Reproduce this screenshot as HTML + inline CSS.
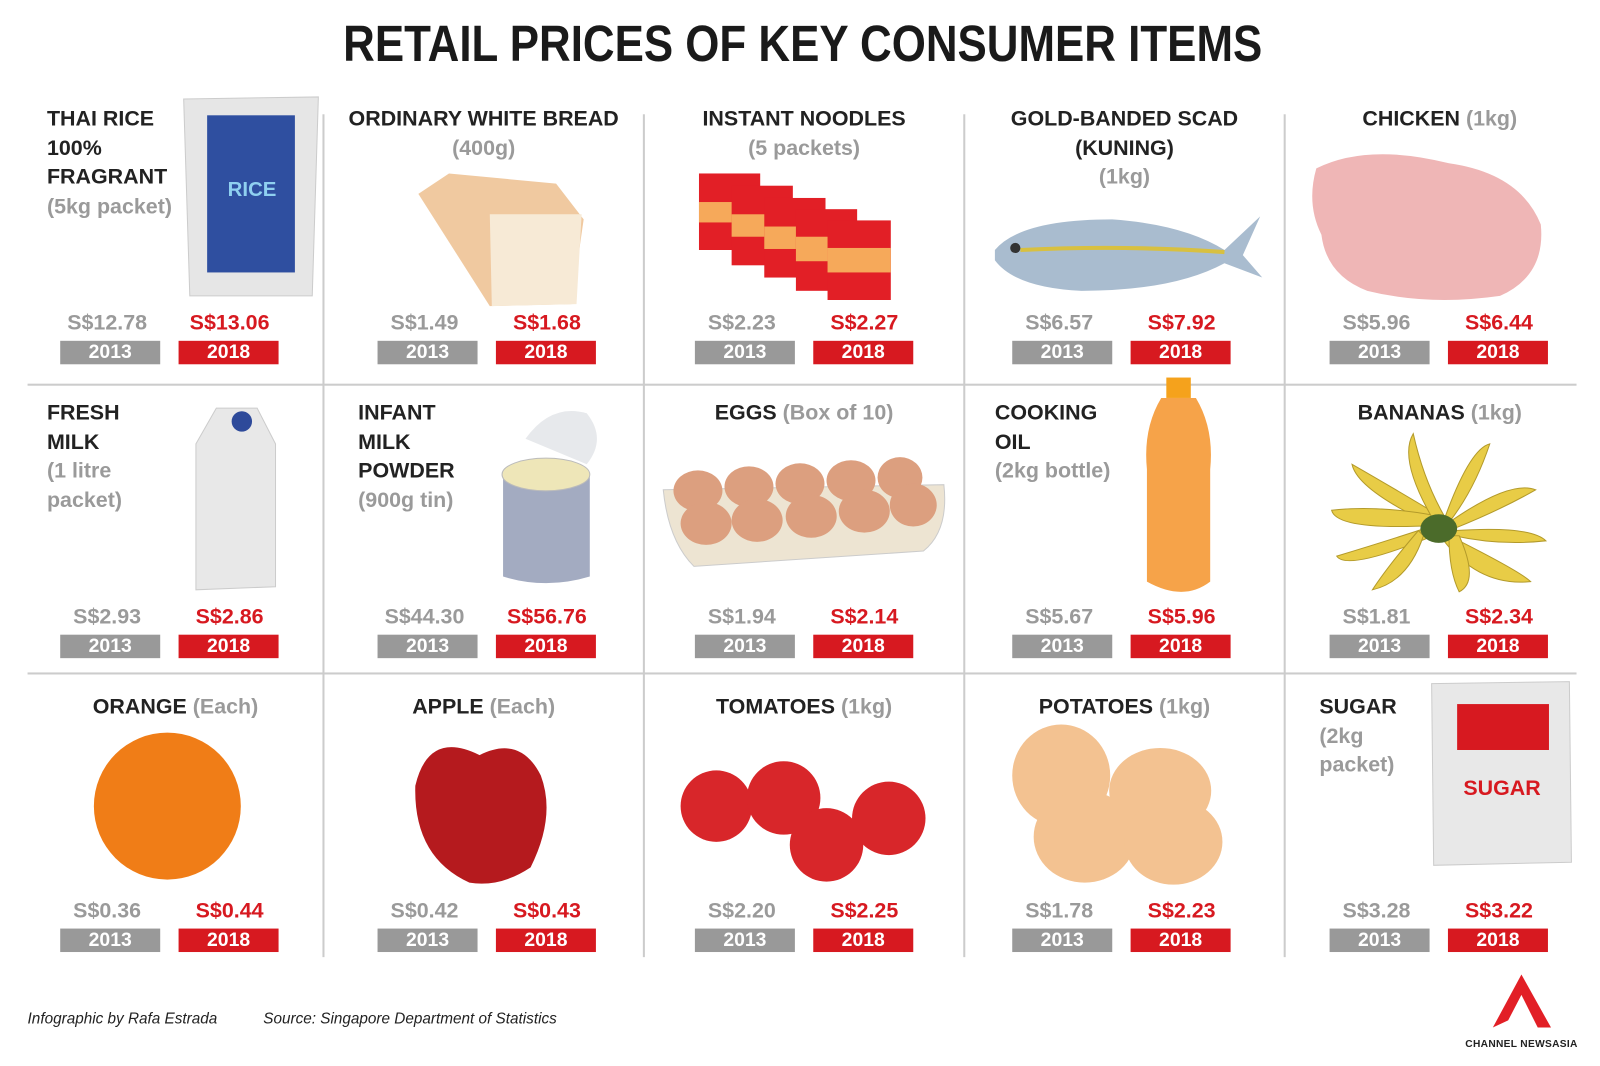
<!DOCTYPE html>
<html><head><meta charset="utf-8"><style>
body{margin:0;background:#fff;}
#o{position:relative;width:1600px;height:1066px;overflow:hidden;background:#fff;}
#c{position:absolute;left:0;top:0;width:1568px;height:1045px;transform:scale(1.0204);transform-origin:0 0;font-family:"Liberation Sans",Arial,sans-serif;}
.t{position:absolute;font-weight:bold;color:#222;font-size:21px;line-height:28.5px;white-space:nowrap}
.g{color:#9a9a9a;font-weight:bold}
.p{position:absolute;width:120px;text-align:center;font-weight:bold;font-size:21px;line-height:24px}
.p.o{color:#9a9a9a}.p.n{color:#d71920}
.b{position:absolute;width:98px;height:23px;color:#fff;font-weight:bold;font-size:19px;line-height:23px;text-align:center}
.b.o{background:#999}.b.n{background:#d71920}
.vl{position:absolute;width:2px;background:#ccc;top:112px;height:826px}
.hl{position:absolute;height:2px;background:#ccc;left:27px;width:1518px}
svg{position:absolute}
</style></head><body><div id="o"><div id="c">
<div style="position:absolute;top:14px;left:0;width:1574px;text-align:center;"><span style="display:inline-block;font-weight:bold;font-size:50px;color:#1a1a1a;transform:scaleX(0.86);white-space:nowrap">RETAIL PRICES OF KEY CONSUMER ITEMS</span></div>

<div class="vl" style="left:316px"></div><div class="vl" style="left:630px"></div><div class="vl" style="left:944px"></div><div class="vl" style="left:1258px"></div>
<div class="hl" style="top:376px"></div><div class="hl" style="top:659px"></div>

<div class="t" style="left:46px;top:103px">THAI RICE<br>100%<br>FRAGRANT<br><span class="g">(5kg packet)</span></div>
<div class="t" style="left:317px;width:314px;text-align:center;top:103px">ORDINARY WHITE BREAD<br><span class="g">(400g)</span></div>
<div class="t" style="left:631px;width:314px;text-align:center;top:103px">INSTANT NOODLES<br><span class="g">(5 packets)</span></div>
<div class="t" style="left:945px;width:314px;text-align:center;top:103px">GOLD-BANDED SCAD<br>(KUNING)<br><span class="g">(1kg)</span></div>
<div class="t" style="left:1259px;width:304px;text-align:center;top:103px">CHICKEN <span class="g">(1kg)</span></div>
<div class="t" style="left:46px;top:391px">FRESH<br>MILK<br><span class="g">(1 litre<br>packet)</span></div>
<div class="t" style="left:351px;top:391px">INFANT<br>MILK<br>POWDER<br><span class="g">(900g tin)</span></div>
<div class="t" style="left:631px;width:314px;text-align:center;top:391px">EGGS <span class="g">(Box of 10)</span></div>
<div class="t" style="left:975px;top:391px">COOKING<br>OIL<br><span class="g">(2kg bottle)</span></div>
<div class="t" style="left:1259px;width:304px;text-align:center;top:391px">BANANAS <span class="g">(1kg)</span></div>
<div class="t" style="left:27px;width:290px;text-align:center;top:679px">ORANGE <span class="g">(Each)</span></div>
<div class="t" style="left:317px;width:314px;text-align:center;top:679px">APPLE <span class="g">(Each)</span></div>
<div class="t" style="left:631px;width:314px;text-align:center;top:679px">TOMATOES <span class="g">(1kg)</span></div>
<div class="t" style="left:945px;width:314px;text-align:center;top:679px">POTATOES <span class="g">(1kg)</span></div>
<div class="t" style="left:1293px;top:679px">SUGAR<br><span class="g">(2kg<br>packet)</span></div>

<div class="p o" style="left:45px;top:305px">S$12.78</div><div class="p n" style="left:165px;top:305px">S$13.06</div>
<div class="p o" style="left:356px;top:305px">S$1.49</div><div class="p n" style="left:476px;top:305px">S$1.68</div>
<div class="p o" style="left:667px;top:305px">S$2.23</div><div class="p n" style="left:787px;top:305px">S$2.27</div>
<div class="p o" style="left:978px;top:305px">S$6.57</div><div class="p n" style="left:1098px;top:305px">S$7.92</div>
<div class="p o" style="left:1289px;top:305px">S$5.96</div><div class="p n" style="left:1409px;top:305px">S$6.44</div>
<div class="p o" style="left:45px;top:593px">S$2.93</div><div class="p n" style="left:165px;top:593px">S$2.86</div>
<div class="p o" style="left:356px;top:593px">S$44.30</div><div class="p n" style="left:476px;top:593px">S$56.76</div>
<div class="p o" style="left:667px;top:593px">S$1.94</div><div class="p n" style="left:787px;top:593px">S$2.14</div>
<div class="p o" style="left:978px;top:593px">S$5.67</div><div class="p n" style="left:1098px;top:593px">S$5.96</div>
<div class="p o" style="left:1289px;top:593px">S$1.81</div><div class="p n" style="left:1409px;top:593px">S$2.34</div>
<div class="p o" style="left:45px;top:881px">S$0.36</div><div class="p n" style="left:165px;top:881px">S$0.44</div>
<div class="p o" style="left:356px;top:881px">S$0.42</div><div class="p n" style="left:476px;top:881px">S$0.43</div>
<div class="p o" style="left:667px;top:881px">S$2.20</div><div class="p n" style="left:787px;top:881px">S$2.25</div>
<div class="p o" style="left:978px;top:881px">S$1.78</div><div class="p n" style="left:1098px;top:881px">S$2.23</div>
<div class="p o" style="left:1289px;top:881px">S$3.28</div><div class="p n" style="left:1409px;top:881px">S$3.22</div>

<div class="b o" style="left:59px;top:334px">2013</div><div class="b n" style="left:175px;top:334px">2018</div>
<div class="b o" style="left:370px;top:334px">2013</div><div class="b n" style="left:486px;top:334px">2018</div>
<div class="b o" style="left:681px;top:334px">2013</div><div class="b n" style="left:797px;top:334px">2018</div>
<div class="b o" style="left:992px;top:334px">2013</div><div class="b n" style="left:1108px;top:334px">2018</div>
<div class="b o" style="left:1303px;top:334px">2013</div><div class="b n" style="left:1419px;top:334px">2018</div>
<div class="b o" style="left:59px;top:622px">2013</div><div class="b n" style="left:175px;top:622px">2018</div>
<div class="b o" style="left:370px;top:622px">2013</div><div class="b n" style="left:486px;top:622px">2018</div>
<div class="b o" style="left:681px;top:622px">2013</div><div class="b n" style="left:797px;top:622px">2018</div>
<div class="b o" style="left:992px;top:622px">2013</div><div class="b n" style="left:1108px;top:622px">2018</div>
<div class="b o" style="left:1303px;top:622px">2013</div><div class="b n" style="left:1419px;top:622px">2018</div>
<div class="b o" style="left:59px;top:910px">2013</div><div class="b n" style="left:175px;top:910px">2018</div>
<div class="b o" style="left:370px;top:910px">2013</div><div class="b n" style="left:486px;top:910px">2018</div>
<div class="b o" style="left:681px;top:910px">2013</div><div class="b n" style="left:797px;top:910px">2018</div>
<div class="b o" style="left:992px;top:910px">2013</div><div class="b n" style="left:1108px;top:910px">2018</div>
<div class="b o" style="left:1303px;top:910px">2013</div><div class="b n" style="left:1419px;top:910px">2018</div>

<svg style="left:0;top:0" width="1600" height="1066">
 <path d="M180,97 L312,95 L306,290 L186,290 Z" fill="#e6e6e6" stroke="#ccc"/>
 <rect x="203" y="113" width="86" height="154" fill="#2f4fa0"/>
 <text x="247" y="192" font-family="Liberation Sans" font-weight="bold" font-size="20" fill="#8fd0f0" text-anchor="middle">RICE</text>
 <path d="M410,190 L440,170 L545,180 L572,215 L560,298 L480,300 Z" fill="#f0c9a0"/>
 <path d="M480,210 L570,210 L565,298 L482,300 Z" fill="#f7ead6"/>
 <g fill="#e21f26"><rect x="685" y="170" width="60" height="75"/><rect x="717" y="182" width="60" height="78"/><rect x="749" y="194" width="60" height="78"/><rect x="780" y="205" width="60" height="80"/><rect x="811" y="216" width="62" height="78"/></g>
 <g fill="#f6a95a"><rect x="811" y="243" width="62" height="24"/><rect x="780" y="232" width="31" height="24"/><rect x="749" y="222" width="31" height="22"/><rect x="717" y="210" width="32" height="22"/><rect x="685" y="198" width="32" height="20"/></g>
 <path d="M975,245 Q1000,215 1090,215 Q1160,220 1200,245 L1235,212 L1218,250 L1237,272 L1200,258 Q1150,285 1060,285 Q995,282 975,255 Z" fill="#a9bccf"/>
 <path d="M1000,245 Q1100,240 1200,247" stroke="#d8c040" stroke-width="4" fill="none"/>
 <circle cx="995" cy="243" r="5" fill="#333"/>
 <path d="M1290,165 Q1340,140 1420,160 Q1490,170 1510,220 Q1515,270 1470,290 Q1400,300 1340,285 Q1300,270 1295,230 Q1280,200 1290,165 Z" fill="#efb6b6"/>
 <path d="M192,435 L212,400 L252,400 L270,435 L270,575 L192,578 Z" fill="#e8e8e8" stroke="#ccc"/>
 <circle cx="237" cy="413" r="10" fill="#2e4a9a"/>
 <path d="M493,465 L578,465 L578,565 Q535,578 493,565 Z" fill="#a3abc1"/>
 <ellipse cx="535" cy="465" rx="43" ry="16" fill="#eee6b8" stroke="#bbb"/>
 <path d="M515,430 Q540,395 575,405 Q595,430 575,455 Z" fill="#e7e9ec"/>
 <path d="M650,480 L925,475 Q930,520 905,540 L680,555 Q655,530 650,480 Z" fill="#ede4d2" stroke="#ccc"/>
 <g fill="#dc9f7f"><ellipse cx="684" cy="481" rx="24" ry="20"/><ellipse cx="734" cy="477" rx="24" ry="20"/><ellipse cx="784" cy="474" rx="24" ry="20"/><ellipse cx="834" cy="471" rx="24" ry="20"/><ellipse cx="882" cy="468" rx="22" ry="20"/>
 <ellipse cx="692" cy="513" rx="25" ry="21"/><ellipse cx="742" cy="510" rx="25" ry="21"/><ellipse cx="795" cy="506" rx="25" ry="21"/><ellipse cx="847" cy="501" rx="25" ry="21"/><ellipse cx="895" cy="495" rx="23" ry="21"/></g>
 <rect x="1143" y="370" width="24" height="20" fill="#f5a21c"/>
 <path d="M1138,390 L1172,390 Q1190,420 1186,460 L1186,570 Q1160,590 1124,570 L1124,460 Q1120,420 1138,390 Z" fill="#f6a349"/>
 <g fill="#e8cc46" stroke="#b39a2a"><path d="M1405,515 Q1330,480 1325,455 Q1360,475 1410,505 Z"/><path d="M1405,515 Q1310,520 1305,500 Q1350,495 1405,505 Z"/><path d="M1405,525 Q1320,560 1310,545 Q1360,530 1405,515Z"/><path d="M1405,510 Q1370,450 1385,425 Q1395,470 1415,505Z"/><path d="M1415,510 Q1440,440 1460,435 Q1445,480 1420,512Z"/><path d="M1420,512 Q1480,470 1505,480 Q1470,500 1425,518Z"/><path d="M1425,520 Q1500,515 1515,530 Q1470,535 1425,525Z"/><path d="M1420,525 Q1490,560 1500,570 Q1450,575 1415,530Z"/><path d="M1395,525 Q1380,570 1345,578 Q1360,555 1390,520Z"/><path d="M1430,525 Q1450,570 1430,580 Q1420,560 1420,525Z"/></g>
 <ellipse cx="1410" cy="518" rx="18" ry="14" fill="#4b6b2a"/>
 <circle cx="164" cy="790" r="72" fill="#f07d17"/>
 <path d="M470,740 Q420,715 407,770 Q405,840 460,865 Q490,870 520,850 Q545,800 530,760 Q510,720 470,740 Z" fill="#b51a1e"/>
 <g fill="#d8262a"><circle cx="702" cy="790" r="35"/><circle cx="768" cy="782" r="36"/><circle cx="871" cy="802" r="36"/><circle cx="810" cy="828" r="36"/></g>
 <g fill="#f3c291"><ellipse cx="1040" cy="760" rx="48" ry="50"/><ellipse cx="1137" cy="775" rx="50" ry="42"/><ellipse cx="1063" cy="820" rx="50" ry="45"/><ellipse cx="1150" cy="825" rx="48" ry="42"/></g>
 <path d="M1403,670 L1538,668 L1540,845 L1405,848 Z" fill="#e8e8e8" stroke="#ccc"/>
 <rect x="1428" y="690" width="90" height="45" fill="#d71920"/>
 <text x="1472" y="779" font-family="Liberation Sans" font-weight="bold" font-size="21" fill="#d71920" text-anchor="middle">SUGAR</text>
 <path d="M1463,1007 L1491,955 L1520,1007 L1507,1007 L1491,975 L1478,1000 Z" fill="#e21f26"/>
</svg>

<div style="position:absolute;left:27px;top:990px;font-style:italic;font-size:15px;color:#222">Infographic by Rafa Estrada</div>
<div style="position:absolute;left:258px;top:990px;font-style:italic;font-size:15px;color:#222">Source: Singapore Department of Statistics</div>
<div style="position:absolute;left:1436px;top:1018px;font-weight:bold;font-size:10px;color:#222;letter-spacing:0.3px">CHANNEL NEWSASIA</div>
</div></div></body></html>
